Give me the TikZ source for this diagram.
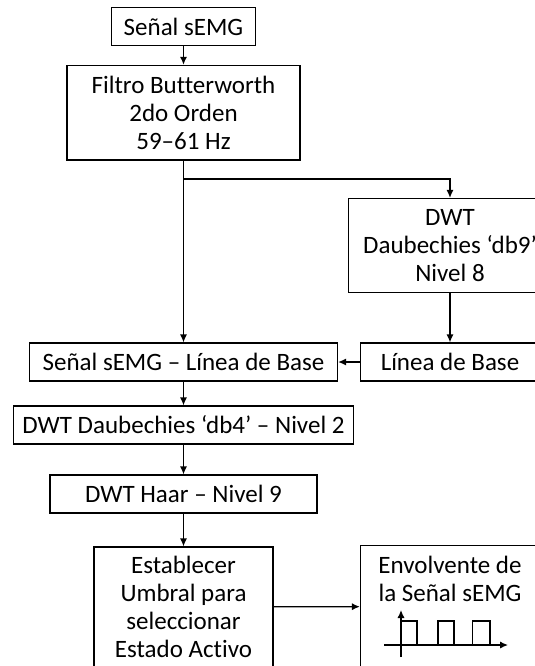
\documentclass[tikz,border=0pt]{standalone}
\usepackage{fontspec}
\setmainfont{Carlito}[Ligatures={TeX,NoCommon}]
\usetikzlibrary{arrows.meta}

\tikzset{
  box/.style={draw, line width=0.65pt, inner sep=0pt, align=center, font=\fontsize{12.5}{13.9}\selectfont},
  txt/.style={inner sep=0pt, align=center, font=\fontsize{12.5}{13.9}\selectfont},
  flow/.style={line width=0.65pt, -{Latex[length=4pt, width=3.6pt]}},
  wave/.style={line width=0.65pt},
}

\begin{document}
\begin{tikzpicture}[x=0.5pt, y=-0.5pt]
  \useasboundingbox (0,0) rectangle (535,666);
  \clip (0,0) rectangle (535,666);
  % main column
  \node[box, minimum width=72pt, minimum height=19pt] (sig) at (183.5,26.5) {Señal sEMG};
  \node[box, minimum width=116.5pt, minimum height=47.3pt] (filt) at (183.5,112.7) {Filtro Butterworth\\2do Orden\\59–61 Hz};
  \node[box, minimum width=154pt, minimum height=19pt] (resta) at (183.5,362) {Señal sEMG – Línea de Base};
  \node[box, minimum width=170pt, minimum height=19pt] (db4) at (183.5,425) {DWT Daubechies ‘db4’ – Nivel 2};
  \node[box, minimum width=133.5pt, minimum height=19pt] (haar) at (183.5,494) {DWT Haar – Nivel 9};
  \node[box, minimum width=89.5pt, minimum height=60pt] (umbral) at (183.5,607) {Establecer\\Umbral para\\seleccionar\\Estado Activo};
  % right column
  \node[box, minimum width=101.5pt, minimum height=47pt] (dwt9) at (450,245.5) {DWT\\Daubechies ‘db9’\\Nivel 8};
  \node[box, minimum width=89.5pt, minimum height=19pt] (base) at (450,362) {Línea de Base};
  \node[box, minimum width=89.5pt, minimum height=61pt] (env) at (450,606.5) {};
  \node[txt] (envtxt) at (450,579) {Envolvente de\\la Señal sEMG};
  \coordinate (split) at (183.5,179);

  \draw[flow] (sig) -- (filt);
  \draw[flow] (filt) -- (resta);
  \draw[flow] (split) -| (dwt9);
  \draw[flow] (dwt9) -- (base);
  \draw[flow] (base) -- (resta);
  \draw[flow] (resta) -- (db4);
  \draw[flow] (db4) -- (haar);
  \draw[flow] (haar) -- (umbral);
  \draw[flow] (umbral) -- (env);

  % square wave
  \draw[flow] (401,657) -- (401,610);
  \draw[flow] (384,645) -- (508,645);
  \draw[wave] (401,621) -- (417,621) -- (417,645) -- (438,645) -- (438,621) -- (454,621) -- (454,645)
    -- (472.5,645) -- (472.5,621) -- (490,621) -- (490,645);
\end{tikzpicture}
\end{document}
